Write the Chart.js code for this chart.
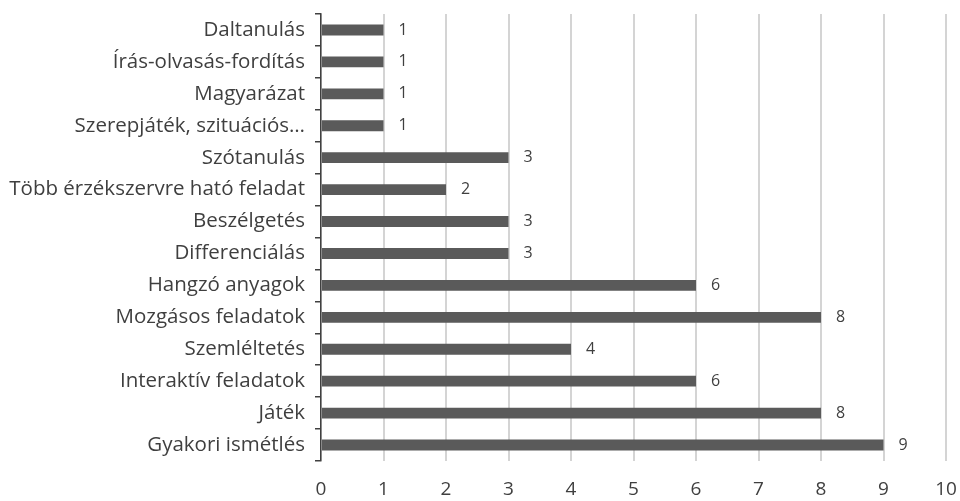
<!DOCTYPE html>
<html>
<head>
<meta charset="utf-8">
<script src="https://cdn.jsdelivr.net/npm/chart.js@4"></script>
<style>
  html, body { margin: 0; padding: 0; background: #fff; }
  #wrap { width: 960px; height: 501px; position: relative; }
</style>
</head>
<body>
<div id="wrap"><canvas id="chart"></canvas></div>
<script>
  // Categories top to bottom, as in the picture
  const categories = [
    "Daltanulás",
    "Írás-olvasás-fordítás",
    "Magyarázat",
    "Szerepjáték, szituációs…",
    "Szótanulás",
    "Több érzékszervre ható feladat",
    "Beszélgetés",
    "Differenciálás",
    "Hangzó anyagok",
    "Mozgásos feladatok",
    "Szemléltetés",
    "Interaktív feladatok",
    "Játék",
    "Gyakori ismétlés"
  ];
  const counts = [1, 1, 1, 1, 3, 2, 3, 3, 6, 8, 4, 6, 8, 9];
  const xTicks = [0, 1, 2, 3, 4, 5, 6, 7, 8, 9, 10];

  const FONT = "'Open Sans', 'Liberation Sans', sans-serif";
  const TEXT = "#3f3f3f";

  // value labels just right of each bar end
  const barValues = {
    id: "barValues",
    afterDatasetsDraw(chart) {
      const { ctx } = chart;
      const meta = chart.getDatasetMeta(0);
      ctx.save();
      ctx.font = "16px " + FONT;
      ctx.fillStyle = TEXT;
      ctx.textAlign = "left";
      ctx.textBaseline = "middle";
      meta.data.forEach((bar, i) => {
        ctx.fillText(String(counts[i]), bar.x + 15, bar.y);
      });
      ctx.restore();
    }
  };

  new Chart(document.getElementById("chart"), {
    type: "bar",
    data: {
      labels: categories,
      datasets: [{
        data: counts,
        backgroundColor: "#5a5a5a",
        borderWidth: 0,
        barPercentage: 0.34,
        categoryPercentage: 1
      }]
    },
    options: {
      indexAxis: "y",
      responsive: true,
      maintainAspectRatio: false,
      animation: false,
      layout: { padding: { top: 14, right: 14, bottom: 0, left: 0 } },
      plugins: {
        legend: { display: false },
        tooltip: { enabled: false }
      },
      scales: {
        x: {
          min: 0,
          max: 10,
          afterBuildTicks: (axis) => { axis.ticks = xTicks.map((v) => ({ value: v })); },
          afterFit: (axis) => {
            axis.height = 40;
            axis.paddingLeft = 0;
            axis.paddingRight = 0;
          },
          grid: {
            color: "#d4d4d4",
            lineWidth: 2,
            drawTicks: false
          },
          border: { display: false },
          ticks: {
            padding: 17,
            color: TEXT,
            font: { family: FONT, size: 19 }
          }
        },
        y: {
          afterFit: (axis) => {
            axis.width = 321;
            axis.paddingTop = 0;
            axis.paddingBottom = 0;
          },
          grid: {
            offset: true,
            drawOnChartArea: false,
            drawTicks: true,
            tickLength: 6,
            color: "#404040",
            lineWidth: 1.5
          },
          border: { display: true, color: "#404040", width: 1.5 },
          ticks: {
            padding: 10,
            color: TEXT,
            font: { family: FONT, size: 20.5 }
          }
        }
      }
    },
    plugins: [barValues]
  });
</script>
</body>
</html>
